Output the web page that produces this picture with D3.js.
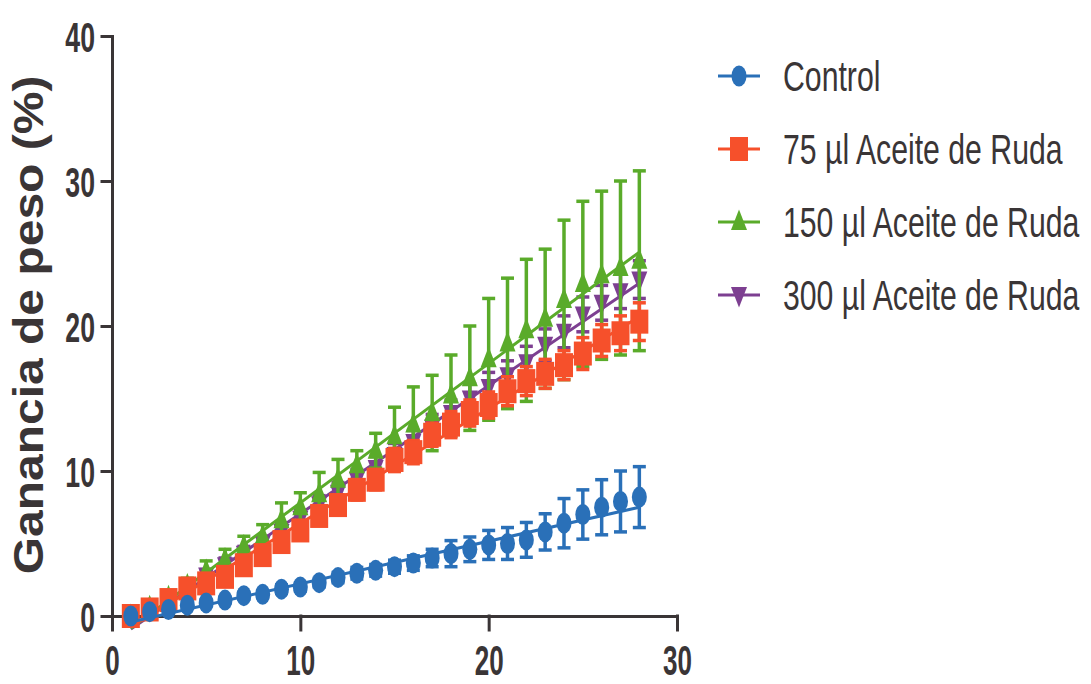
<!DOCTYPE html>
<html>
<head>
<meta charset="utf-8">
<script src="https://cdn.jsdelivr.net/npm/d3@7"></script>
<style>
  body { margin: 0; background: #fff; }
  svg { display: block; }
</style>
</head>
<body>
<svg id="chart" width="1091" height="684"></svg>
<script>
// days of treatment
let days = [1,2,3,4,5,6,7,8,9,10,11,12,13,14,15,16,17,18,19,20,21,22,23,24,25,26,27,28]

let control    = [0,0.3,0.45,0.75,0.9,1.1,1.4,1.5,1.85,2.0,2.3,2.65,2.95,3.15,3.4,3.65,4.0,4.3,4.6,4.9,5.0,5.25,5.8,6.4,7.0,7.5,7.9,8.2]
let controlErr = [0.1,0.15,0.15,0.2,0.2,0.2,0.25,0.25,0.3,0.3,0.3,0.35,0.4,0.4,0.45,0.5,0.6,0.9,0.85,1.0,1.1,1.2,1.25,1.7,1.7,1.9,2.1,2.1]

let ruda75    = [0,0.45,1.1,1.9,2.25,2.7,3.5,4.2,5.1,5.9,6.9,7.65,8.7,9.4,10.76,11.3,12.5,13.2,14.0,14.55,15.5,16.2,16.7,17.3,18.1,19.0,19.5,20.3]
let ruda75Err = [0.2,0.3,0.3,0.3,0.4,0.5,0.5,0.5,0.6,0.6,0.6,0.7,0.7,0.7,0.8,0.8,0.8,0.9,0.9,0.9,1.0,1.0,1.0,1.0,1.1,1.1,1.2,1.3]

let ruda150    = [0,0.6,1.3,2.1,3.1,3.9,4.8,5.5,6.6,7.5,8.4,9.4,10.4,11.4,12.4,13.2,14.0,15.2,16.4,17.7,18.8,19.7,20.5,21.8,22.9,23.5,24.0,24.5]
let ruda150Err = [0.2,0.3,0.4,0.5,0.7,0.7,0.7,0.8,1.2,1.0,1.5,1.4,1.0,1.2,2.0,2.6,2.6,2.8,3.6,4.2,4.5,4.9,4.8,5.5,5.7,5.8,6.0,6.2]

let ruda300    = [0,0.5,1.2,1.9,2.8,3.5,4.3,5.0,5.8,6.7,7.7,8.5,9.4,10.2,11.1,12.0,13.0,14.0,15.0,15.8,16.6,17.5,18.7,19.6,20.8,21.6,22.4,23.2]
let ruda300Err = [0.2,0.3,0.3,0.4,0.4,0.5,0.5,0.5,0.6,0.6,0.6,0.7,0.7,0.8,0.8,0.8,0.9,0.9,1.0,1.0,1.0,1.1,1.1,1.1,1.2,1.2,1.2,1.3]

let seriesNames = ["Control", "75 µl Aceite de Ruda", "150 µl Aceite de Ruda", "300 µl Aceite de Ruda"]
let xTicks = [0, 10, 20, 30]
let yTicks = [0, 10, 20, 30, 40]

let series = [
  { name: seriesNames[0], values: control, err: controlErr, color: "#2a70b8", shape: "circle" },
  { name: seriesNames[1], values: ruda75,  err: ruda75Err,  color: "#f6502b", shape: "square" },
  { name: seriesNames[2], values: ruda150, err: ruda150Err, color: "#5aab2a", shape: "up" },
  { name: seriesNames[3], values: ruda300, err: ruda300Err, color: "#7d3f91", shape: "down" }
]

let ink = "#3a3536"
let svg = d3.select("#chart")

let x = d3.scaleLinear().domain([0, 30]).range([112, 677])
let y = d3.scaleLinear().domain([0, 40]).range([616, 36])

// marker drawing (the picture is squeezed sideways, so shapes are taller than wide)
function drawMarker(g, shape, color) {
  if (shape == "circle") {
    g.append("ellipse").attr("rx", 7.5).attr("ry", 10.5).style("fill", color)
  } else if (shape == "square") {
    g.append("rect").attr("x", -9).attr("y", -12).attr("width", 18).attr("height", 24).style("fill", color)
  } else if (shape == "up") {
    g.append("path").attr("d", "M0,-12.5L8,8L-8,8Z").style("fill", color)
  } else {
    g.append("path").attr("d", "M0,12.5L8,-8L-8,-8Z").style("fill", color)
  }
}

// least squares line through the means
function fitLine(vals) {
  let mx = d3.mean(days), my = d3.mean(vals)
  let sxy = d3.sum(days, (d, i) => (d - mx) * (vals[i] - my))
  let sxx = d3.sum(days, d => (d - mx) * (d - mx))
  let b = sxy / sxx
  let a = my - b * mx
  return [[days[0], a + b * days[0]], [days[days.length - 1], a + b * days[days.length - 1]]]
}

// axes
let yAxis = svg.append("g")
  .attr("transform", "translate(112,0)")
  .call(d3.axisLeft(y).tickValues(yTicks).tickSize(10).tickSizeOuter(0))
let xAxis = svg.append("g")
  .attr("transform", "translate(0,616)")
  .call(d3.axisBottom(x).tickValues(xTicks).tickSize(14).tickSizeOuter(0))

svg.selectAll(".domain, .tick line")
  .style("stroke", ink)
  .style("stroke-width", 3)
  .style("stroke-linecap", "square")

yAxis.selectAll(".tick text")
  .attr("x", null).attr("dy", "0.36em")
  .attr("transform", "translate(-17,0) scale(0.62,1)")
  .style("font-family", "'Liberation Sans', Arial, sans-serif")
  .style("font-size", "43px")
  .style("font-weight", "bold")
  .style("fill", ink)
  .style("text-anchor", "end")

xAxis.selectAll(".tick text")
  .attr("y", null).attr("dy", null)
  .attr("transform", "translate(0,59) scale(0.62,1)")
  .style("font-family", "'Liberation Sans', Arial, sans-serif")
  .style("font-size", "42px")
  .style("font-weight", "bold")
  .style("fill", ink)

// y axis title
svg.append("text")
  .attr("transform", "translate(43,325) scale(0.88,1) rotate(-90)")
  .attr("text-anchor", "middle")
  .style("font-family", "'Liberation Sans', Arial, sans-serif")
  .style("font-size", "48px")
  .style("font-weight", "bold")
  .style("fill", ink)
  .text("Ganancia de peso (%)")

// plot series, first data set on top
let plot = svg.append("g").attr("id", "plot")
series.slice().reverse().forEach(s => {
  let g = plot.append("g").attr("class", "series")

  // error bars
  let bars = g.selectAll("g.err")
    .data(days.map((d, i) => ({ day: d, v: s.values[i], e: s.err[i] })))
    .join("g")
    .attr("class", "err")
    .style("stroke", s.color)
    .style("stroke-width", 3.5)
  bars.append("line")
    .attr("x1", d => x(d.day)).attr("x2", d => x(d.day))
    .attr("y1", d => y(d.v + d.e)).attr("y2", d => y(d.v - d.e))
  bars.append("line")
    .attr("x1", d => x(d.day) - 6.5).attr("x2", d => x(d.day) + 6.5)
    .attr("y1", d => y(d.v + d.e)).attr("y2", d => y(d.v + d.e))
  bars.append("line")
    .attr("x1", d => x(d.day) - 6.5).attr("x2", d => x(d.day) + 6.5)
    .attr("y1", d => y(d.v - d.e)).attr("y2", d => y(d.v - d.e))

  // regression line
  let line = d3.line().x(d => x(d[0])).y(d => y(d[1]))
  g.append("path")
    .attr("d", line(fitLine(s.values)))
    .style("fill", "none")
    .style("stroke", s.color)
    .style("stroke-width", 3)

  // markers
  days.forEach((d, i) => {
    let m = g.append("g").attr("transform", `translate(${x(d)},${y(s.values[i])})`)
    drawMarker(m, s.shape, s.color)
  })
})

// legend
let legend = svg.append("g").attr("id", "legend")
series.forEach((s, i) => {
  let cy = 76 + i * 73
  let row = legend.append("g").attr("transform", `translate(739,${cy})`)
  row.append("line")
    .attr("x1", -21).attr("x2", 21)
    .style("stroke", s.color)
    .style("stroke-width", 3)
  drawMarker(row, s.shape, s.color)
  legend.append("text")
    .attr("transform", `translate(783,${cy + 15}) scale(0.72,1)`)
    .style("font-family", "'Liberation Sans', Arial, sans-serif")
    .style("font-size", "42px")
    .style("fill", ink)
    .text(s.name)
})
</script>
</body>
</html>
